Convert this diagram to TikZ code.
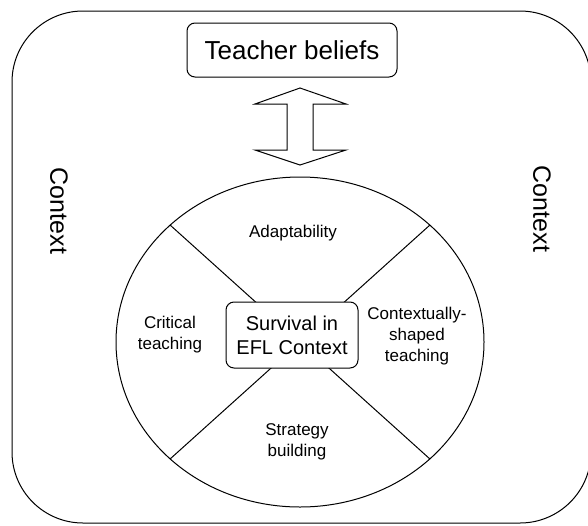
\documentclass[tikz,border=0pt]{standalone}
\usepackage{fontspec}
\setmainfont{Liberation Sans}
\usetikzlibrary{shapes.geometric}
\tikzset{
  frame/.style={draw, line width=1pt},
  boxnode/.style={draw, line width=1pt, rounded corners=8pt, fill=white, align=center, inner sep=0pt},
  segtext/.style={align=center, inner sep=0pt, font=\fontsize{17}{21}\selectfont},
  ctxtext/.style={inner sep=0pt, font=\fontsize{25}{30}\selectfont, rotate=-90},
}
\begin{document}
\begin{tikzpicture}[x=1pt,y=-1pt]
\useasboundingbox (0,0) rectangle (588,525);
\clip (0,0) rectangle (588,525);
\draw[frame, rounded corners=71pt] (12,11) rectangle (591,523);
\node[boxnode, minimum width=210pt, minimum height=54pt, font=\fontsize{26}{31}\selectfont] (beliefs) at (292,50) {Teacher beliefs};
\node[ctxtext] (ctxL) at (59,211) {Context};
\node[ctxtext] (ctxR) at (542,209) {Context};
\draw[frame, line join=miter] (300,88) -- (346,104) -- (313,104) -- (313,150) -- (346,150) -- (300,165) -- (255,150) -- (287,150) -- (287,104) -- (255,104) -- cycle;
\node[draw, line width=1pt, ellipse, minimum width=368pt, minimum height=330pt, inner sep=0pt] (ring) at (300,342) {};
\draw[frame] (ring.138) -- (ring.318);
\draw[frame] (ring.42) -- (ring.222);
\node[boxnode, minimum width=132pt, minimum height=66pt, font=\fontsize{20}{24}\selectfont] (core) at (292,335) {Survival in\\EFL Context};
\node[segtext] (adapt) at (293,233) {Adaptability};
\node[segtext] (crit) at (170,334.5) {Critical\\teaching};
\node[segtext] (shaped) at (417,336) {Contextually-\\shaped\\teaching};
\node[segtext] (strat) at (297,442) {Strategy\\building};
\end{tikzpicture}
\end{document}
